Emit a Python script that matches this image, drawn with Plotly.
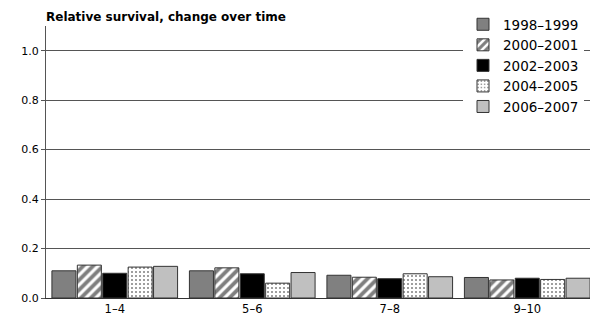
import plotly.graph_objects as go

categories = ["1\u20134", "5\u20136", "7\u20138", "9\u201310"]
series_names = ["1998\u20131999", "2000\u20132001", "2002\u20132003", "2004\u20132005", "2006\u20132007"]
v1998 = [0.110, 0.110, 0.092, 0.083]
v2000 = [0.133, 0.122, 0.084, 0.073]
v2002 = [0.100, 0.098, 0.078, 0.080]
v2004 = [0.125, 0.060, 0.098, 0.075]
v2006 = [0.128, 0.103, 0.086, 0.080]
y_ticks = [0.0, 0.2, 0.4, 0.6, 0.8, 1.0]

series_values = [v1998, v2000, v2002, v2004, v2006]
styles = [
    dict(color="#808080"),
    dict(color="white", pattern=dict(shape="/", fgcolor="black", bgcolor="white", size=7, solidity=0.55)),
    dict(color="black"),
    dict(color="white", pattern=dict(shape=".", fgcolor="black", bgcolor="white", size=4, solidity=0.2)),
    dict(color="#c0c0c0"),
]

FONT = "DejaVu Sans, Liberation Sans, Arial, sans-serif"

fig = go.Figure()
for name, vals, st in zip(series_names, series_values, styles):
    fig.add_trace(go.Bar(
        x=categories, y=vals, name=name,
        marker=dict(line=dict(color="#333333", width=1), **st),
    ))

# page has an 8px body margin, so the figure is sized to fit the 598x320 window
W, H = 590, 312
fig.update_layout(
    width=W, height=H,
    margin=dict(l=38, r=2, t=18, b=22, autoexpand=False),
    paper_bgcolor="white", plot_bgcolor="white",
    barmode="group", bargap=0.076, bargroupgap=0.055,
    font=dict(family=FONT, size=11, color="black"),
    title=dict(text="<b>Relative survival, change over time</b>", x=38/W, xanchor="left",
               y=1 - 9/H, yanchor="middle", font=dict(size=12, color="black")),
    legend=dict(x=(455-38)/550, xanchor="left", y=1.0 + 17/272, yanchor="top", bgcolor="white",
                font=dict(size=13.5), itemwidth=30, tracegroupgap=0),
    xaxis=dict(showline=True, linecolor="#333333", linewidth=1, ticks="", showgrid=False,
               tickfont=dict(size=11.5)),
    yaxis=dict(range=[0, 1.1], tickvals=y_ticks, ticktext=[f"{t:.1f}" for t in y_ticks],
               showline=True, linecolor="#555555", linewidth=1, ticks="outside", ticklen=4,
               tickcolor="#555555", showgrid=True, gridcolor="#555555", gridwidth=1,
               zeroline=False, tickfont=dict(size=11)),
)
fig.write_html("out.html")
